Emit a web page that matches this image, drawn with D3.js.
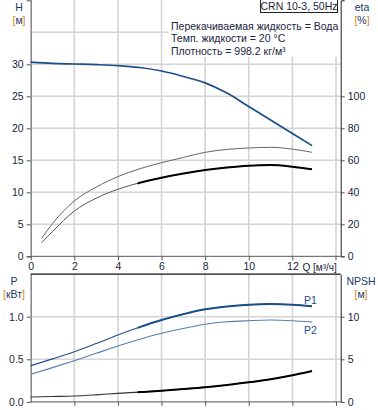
<!DOCTYPE html>
<html>
<head>
<meta charset="utf-8">
<script src="https://cdn.jsdelivr.net/npm/d3@7"></script>
<style>
  body { margin: 0; background: #fff; }
  svg { display: block; font-family: "Liberation Sans", Arial, sans-serif; }
</style>
</head>
<body>
<script>
// расход Q, м³/ч
const flow = [0, 1, 2, 3, 4, 5, 6, 7, 8, 9, 10, 11, 12, 12.9];
const head = [30.35, 30.15, 30.05, 29.95, 29.8, 29.5, 28.95, 28.1, 27.1, 25.5, 23.4, 21.3, 19.2, 17.3];
const power1 = [0.425, 0.505, 0.589, 0.685, 0.785, 0.878, 0.961, 1.03, 1.087, 1.12, 1.141, 1.149, 1.141, 1.122];
const power2 = [0.324, 0.402, 0.484, 0.57, 0.656, 0.735, 0.805, 0.862, 0.911, 0.94, 0.953, 0.961, 0.953, 0.938];
const npsh = [0.58, 0.63, 0.69, 0.83, 1.0, 1.15, 1.31, 1.5, 1.71, 1.98, 2.3, 2.65, 3.12, 3.63];

// КПД начинается с 0.5 м³/ч
const flowEta = [0.5, 1, 2, 3, 4, 5, 6, 7, 8, 9, 10, 11, 12, 12.9];
const etaPump = [11.2, 20.5, 34.6, 43.2, 49.8, 54.7, 58.5, 61.8, 65, 66.8, 67.7, 68.1, 67, 65];
const etaTotal = [8.5, 15.5, 28.3, 36.3, 41.9, 46, 49.1, 51.7, 53.9, 55.5, 56.6, 57, 56, 54.4];

// рабочий диапазон (жирная линия)
const workFrom = 4.9;

const qTicks = [0, 2, 4, 6, 8, 10, 12];
const qGrid = [2, 4, 6, 8, 10, 12, 14];
const hTicks = [0, 5, 10, 15, 20, 25, 30];
const hGrid = [5, 10, 15, 20, 25, 30, 35];
const etaTicks = [0, 20, 40, 60, 80, 100];
const pTicks = [0, 0.5, 1.0];
const npshTicks = [0, 5, 10];

const infoLines = [
  "Перекачиваемая жидкость = Вода",
  "Темп. жидкости = 20 °C",
  "Плотность = 998.2 кг/м³"
];

const W = 378, H = 410;
const left = 30.7, right = 340.7;
const navy = "#1d3766", orange = "#e0860b";
const blue = "#1c4e8a", blue2 = "#5a7db0";
const grid = "#d4d4d4", txt = "#1b2440";

const svg = d3.select("body").append("svg").attr("width", W).attr("height", H);

const x = d3.scaleLinear().domain([0, 14]).range([left, 336]);
const yH = d3.scaleLinear().domain([0, 40]).range([256.3, 0.3]);
const yEta = d3.scaleLinear().domain([0, 160]).range([256.3, 0.3]);
const yP = d3.scaleLinear().domain([0, 1.5]).range([401.9, 274.1]);
const yN = d3.scaleLinear().domain([0, 15]).range([401.9, 274.1]);

function gridLines(g, yScale, yVals, y0, y1) {
  g.selectAll(".vg").data(qGrid).join("line")
    .attr("class", "vg")
    .attr("x1", d => x(d)).attr("x2", d => x(d))
    .attr("y1", y0).attr("y2", y1)
    .attr("stroke", grid).attr("stroke-width", 1.6);
  g.selectAll(".hg").data(yVals).join("line")
    .attr("class", "hg")
    .attr("x1", left).attr("x2", right)
    .attr("y1", d => yScale(d)).attr("y2", d => yScale(d))
    .attr("stroke", grid).attr("stroke-width", 1.6);
}

// ---- верхний график ----
const gTop = svg.append("g");
gridLines(gTop, yH, hGrid, 0, 256.3);

// информационный блок
gTop.append("rect").attr("x", 168).attr("y", 0).attr("width", 172).attr("height", 57).attr("fill", "#fff");
gTop.append("rect").attr("x", 260.5).attr("y", -1).attr("width", 77).attr("height", 13.5)
  .attr("fill", "#fff").attr("stroke", "#222").attr("stroke-width", 1);
gTop.append("text").attr("x", 299).attr("y", 9.5).attr("text-anchor", "middle")
  .attr("font-size", 10.5).attr("fill", txt).text("CRN 10-3, 50Hz");
gTop.selectAll(".info").data(infoLines).join("text")
  .attr("class", "info")
  .attr("x", 171).attr("y", (d, i) => 30 + i * 12.4)
  .attr("font-size", 10.5).attr("fill", txt).text(d => d);

// оси
gTop.append("g").attr("transform", "translate(" + left + ",0)")
  .call(d3.axisLeft(yH).tickValues(hTicks).tickSize(4).tickPadding(3))
  .call(g => g.select(".domain").attr("stroke", "#8a8a8a").attr("stroke-width", 1.6));
gTop.append("g").attr("transform", "translate(" + right + ",0)")
  .call(d3.axisRight(yEta).tickValues(etaTicks).tickSize(4).tickPadding(3))
  .call(g => g.select(".domain").attr("stroke", "#222"));
gTop.append("g").attr("transform", "translate(0,256.3)")
  .call(d3.axisBottom(x).tickValues(qTicks).tickSize(4).tickPadding(2).tickSizeOuter(0))
  .call(g => g.select(".domain").attr("stroke", "#555").attr("d", "M" + left + ",0H" + right));
gTop.append("line").attr("x1", x(14)).attr("x2", x(14)).attr("y1", 256.3).attr("y2", 260.3).attr("stroke", "#555");
gTop.append("text").attr("x", 302.5).attr("y", 271).attr("font-size", 10).attr("fill", txt).text("Q [м³/ч]");

// кривые
const clipWork = svg.append("clipPath").attr("id", "work");
clipWork.append("rect").attr("x", x(workFrom)).attr("y", 0).attr("width", 400).attr("height", 410);

const lineH = d3.line().x((d, i) => x(flow[i])).y(d => yH(d)).curve(d3.curveMonotoneX);
const lineEta = d3.line().x((d, i) => x(flowEta[i])).y(d => yEta(d)).curve(d3.curveMonotoneX);

gTop.append("path").attr("d", lineEta(etaPump)).attr("fill", "none").attr("stroke", "#666").attr("stroke-width", 1);
gTop.append("path").attr("d", lineEta(etaTotal)).attr("fill", "none").attr("stroke", "#555").attr("stroke-width", 1);
gTop.append("path").attr("d", lineEta(etaTotal)).attr("fill", "none").attr("stroke", "#000").attr("stroke-width", 2)
  .attr("clip-path", "url(#work)");
gTop.append("path").attr("d", lineH(head)).attr("fill", "none").attr("stroke", blue).attr("stroke-width", 1.7);

// ---- нижний график ----
const gBot = svg.append("g");
gridLines(gBot, yP, [0.5, 1.0], 274.1, 401.9);

gBot.append("g").attr("transform", "translate(" + left + ",0)")
  .call(d3.axisLeft(yP).tickValues(pTicks).tickFormat(d3.format(".1f")).tickSize(4).tickPadding(3).tickSizeOuter(0))
  .call(g => g.select(".domain").attr("stroke", "#8a8a8a").attr("stroke-width", 1.6));
gBot.append("g").attr("transform", "translate(" + right + ",0)")
  .call(d3.axisRight(yN).tickValues(npshTicks).tickSize(4).tickPadding(3).tickSizeOuter(0))
  .call(g => g.select(".domain").attr("stroke", "#222"));
gBot.append("g").attr("transform", "translate(0,401.9)")
  .call(d3.axisBottom(x).tickValues(qGrid).tickSize(4).tickFormat("").tickSizeOuter(0))
  .call(g => g.select(".domain").attr("stroke", "#555").attr("d", "M" + left + ",0H" + right));
gBot.append("line").attr("x1", left).attr("x2", right).attr("y1", 274.1).attr("y2", 274.1)
  .attr("stroke", "#111").attr("stroke-width", 1.2);

const lineP = d3.line().x((d, i) => x(flow[i])).y(d => yP(d)).curve(d3.curveMonotoneX);
const lineN = d3.line().x((d, i) => x(flow[i])).y(d => yN(d)).curve(d3.curveMonotoneX);

gBot.append("path").attr("d", lineP(power2)).attr("fill", "none").attr("stroke", blue2).attr("stroke-width", 1.1);
gBot.append("path").attr("d", lineP(power1)).attr("fill", "none").attr("stroke", blue).attr("stroke-width", 1.1);
gBot.append("path").attr("d", lineP(power1)).attr("fill", "none").attr("stroke", blue).attr("stroke-width", 2)
  .attr("clip-path", "url(#work)");
gBot.append("path").attr("d", lineN(npsh)).attr("fill", "none").attr("stroke", "#333").attr("stroke-width", 1.1);
gBot.append("path").attr("d", lineN(npsh)).attr("fill", "none").attr("stroke", "#000").attr("stroke-width", 2)
  .attr("clip-path", "url(#work)");

gBot.append("text").attr("x", 304).attr("y", 304).attr("font-size", 10.5).attr("fill", blue).text("P1");
gBot.append("text").attr("x", 304).attr("y", 333.5).attr("font-size", 10.5).attr("fill", blue).text("P2");

// стиль тиков
svg.selectAll(".tick text").attr("font-size", 10.5).attr("fill", txt).attr("font-family", "Liberation Sans, Arial, sans-serif");
svg.selectAll(".tick line").attr("stroke", "#555");

// подписи осей
function axisTitle(xc, y1, name, unit) {
  svg.append("text").attr("x", xc).attr("y", y1).attr("text-anchor", "middle")
    .attr("font-size", 10.5).attr("fill", navy).text(name);
  const t = svg.append("text").attr("x", xc).attr("y", y1 + 13).attr("text-anchor", "middle")
    .attr("font-size", 10.5).attr("fill", navy);
  t.append("tspan").attr("fill", orange).text("[");
  t.append("tspan").text(unit);
  t.append("tspan").attr("fill", orange).text("]");
}
axisTitle(19, 11, "H", "м");
axisTitle(362, 11, "eta", "%");
axisTitle(14, 285, "P", "кВт");
axisTitle(361, 285, "NPSH", "м");
</script>
</body>
</html>
